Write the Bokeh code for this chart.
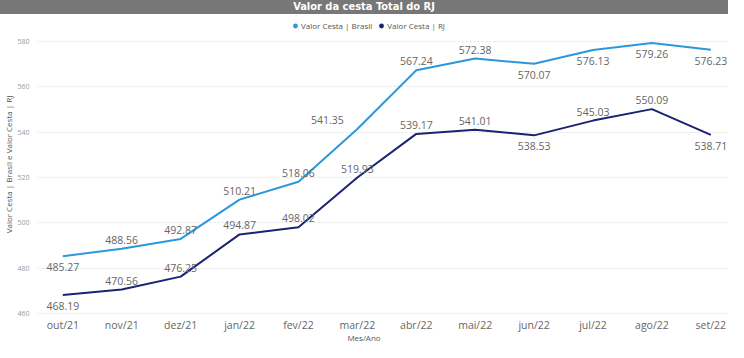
from bokeh.plotting import figure
from bokeh.models import Range1d, FixedTicker, Legend, LegendItem, Div, ColumnDataSource
from bokeh.layouts import column
from bokeh.embed import file_html
from bokeh.resources import INLINE
from bokeh.core.properties import value

# ---- data ----
months = ["out/21", "nov/21", "dez/21", "jan/22", "fev/22", "mar/22",
          "abr/22", "mai/22", "jun/22", "jul/22", "ago/22", "set/22"]
brasil = [485.27, 488.56, 492.87, 510.21, 518.06, 541.35,
          567.24, 572.38, 570.07, 576.13, 579.26, 576.23]
rj = [468.19, 470.56, 476.25, 494.87, 498.02, 519.93,
      539.17, 541.01, 538.53, 545.03, 550.09, 538.71]
y_ticks = [460, 480, 500, 520, 540, 560, 580]

# ---- label placement (style) ----
brasil_place = ["below", "above", "above", "above", "above", "left",
                "above", "above", "below", "below", "below", "below"]
rj_place = ["below", "above", "above", "above", "above", "above",
            "above", "above", "below", "above", "above", "below"]

C_BR = "#2C97DB"
C_RJ = "#1B2272"
FONT = "Open Sans"

x = list(range(len(months)))

p = figure(width=728, height=320,
           x_range=Range1d(-0.43, 11.3), y_range=Range1d(459.56, 591.8),
           output_backend="svg", toolbar_location=None,
           min_border_left=30, min_border_right=0, min_border_top=0,
           min_border_bottom=0, margin=0)
p.outline_line_color = None
p.background_fill_color = "white"
p.border_fill_color = "white"

# axes
p.xaxis.ticker = FixedTicker(ticks=x)
p.xaxis.major_label_overrides = {i: m for i, m in enumerate(months)}
p.xaxis.axis_line_color = None
p.xaxis.major_tick_line_color = None
p.xaxis.major_tick_out = 0
p.xaxis.major_tick_in = 0
p.xaxis.minor_tick_line_color = None
p.xaxis.major_label_text_font = FONT
p.xaxis.major_label_text_font_size = "10.5px"
p.xaxis.major_label_text_color = "#666666"
p.xaxis.major_label_standoff = 3

p.yaxis.ticker = FixedTicker(ticks=y_ticks)
p.yaxis.axis_line_color = None
p.yaxis.major_tick_line_color = None
p.yaxis.major_tick_out = 0
p.yaxis.major_tick_in = 0
p.yaxis.minor_tick_line_color = None
p.yaxis.major_label_text_font = FONT
p.yaxis.major_label_text_font_size = "7px"
p.yaxis.major_label_text_color = "#9a9a9a"
p.yaxis.major_label_standoff = 8
p.yaxis.axis_label = "Valor Cesta | Brasil e Valor Cesta | RJ"
p.yaxis.axis_label_text_font = FONT
p.yaxis.axis_label_text_font_size = "8px"
p.yaxis.axis_label_text_font_style = "normal"
p.yaxis.axis_label_text_color = "#555555"
p.yaxis.axis_label_standoff = 0

p.xgrid.grid_line_color = None
p.ygrid.grid_line_color = "#e3e3e3"
p.ygrid.grid_line_dash = "2 2"
p.ygrid.grid_line_width = 1

# lines
p.line(x, brasil, line_color=C_BR, line_width=2)
p.line(x, rj, line_color=C_RJ, line_width=2)


def offsets(place):
    xo, yo = [], []
    for pl in place:
        if pl == "above":
            xo.append(0); yo.append(-9)
        elif pl == "below":
            xo.append(0); yo.append(11)
        else:  # left
            xo.append(-30); yo.append(-9)
    return xo, yo


for vals, place in ((brasil, brasil_place), (rj, rj_place)):
    xo, yo = offsets(place)
    src = ColumnDataSource(dict(x=x, y=vals, label=[f"{v:.2f}" for v in vals],
                                xo=xo, yo=yo))
    p.text(x="x", y="y", text="label", source=src, x_offset="xo", y_offset="yo",
           text_align="center", text_baseline="middle",
           text_font=value(FONT), text_font_size="10.5px", text_color="#666666")

# legend (markers of size 0 on the series: only the legend swatch is visible)
r1 = p.scatter(x, brasil, marker="circle", size=0, fill_color=C_BR, line_alpha=0)
r2 = p.scatter(x, rj, marker="circle", size=0, fill_color=C_RJ, line_alpha=0)
legend = Legend(items=[LegendItem(label="Valor Cesta | Brasil", renderers=[r1]),
                       LegendItem(label="Valor Cesta | RJ", renderers=[r2])],
                orientation="horizontal", location=(252, 281),
                border_line_color=None, background_fill_alpha=0,
                label_text_font=FONT, label_text_font_size="8px",
                label_text_color="#555555",
                glyph_width=12, glyph_height=15, label_height=15,
                label_standoff=0, spacing=3, padding=2, margin=0)
p.add_layout(legend, "center")

title = Div(text="<b>Valor da cesta Total do RJ</b>", width=728, height=14, margin=0,
            styles={"background-color": "#777777", "color": "white",
                    "text-align": "center", "font-family": "DejaVu Sans Condensed, sans-serif",
                    "font-size": "11px", "line-height": "14px"})

xtitle = Div(text="Mes/Ano", width=728, height=8, margin=0,
             styles={"color": "#555555", "text-align": "center",
                     "font-family": "Open Sans, sans-serif",
                     "font-size": "8px", "line-height": "8px"})

layout = column(title, p, xtitle, spacing=0)

open("out.html", "w").write(file_html(layout, INLINE))
